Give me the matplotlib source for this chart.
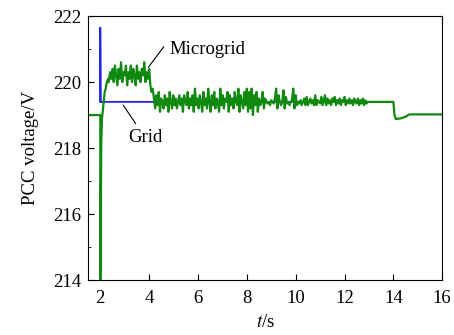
import numpy as np
import matplotlib
matplotlib.use('Agg')
from matplotlib import pyplot as plt

plt.rcParams['font.family'] = ['Liberation Serif', 'DejaVu Serif']
plt.rcParams['mathtext.fontset'] = 'stix'

# grid reference voltage
grid_t = [2.0, 2.0, 2.015, 13.0]
grid_v = [219.4, 221.65, 219.4, 219.4]

# microgrid PCC voltage
pre_t = [1.5, 2.0]
pre_v = [219.0, 219.0]

start_t = [2.0, 2.005, 2.02, 2.04, 2.07, 2.1, 2.14, 2.18, 2.22, 2.27, 2.32]
start_v = [214.0, 214.0, 216.0, 218.2, 218.9, 219.1, 219.4, 219.7, 219.8, 220.0, 220.1]

plateau_v = [220.0, 220.3, 220.1, 220.4, 220.0, 220.5, 220.2, 219.9, 220.4, 220.1,
             220.6, 220.0, 220.3, 220.2, 220.5, 219.9, 220.3, 220.1, 220.5, 220.0,
             220.4, 220.2, 219.9, 220.5, 220.1, 220.3, 220.0, 220.4, 220.2, 220.6,
             220.0, 220.3, 220.1, 220.4]

mid_v = [219.9, 219.7, 219.8, 219.5, 219.2, 219.6, 219.3, 219.7, 219.1, 219.5,
         219.4, 219.2, 219.6, 219.3, 219.5, 219.1, 219.7, 219.4, 219.2, 219.6,
         219.3, 219.5, 219.2, 219.4, 219.6, 219.3, 219.5, 219.1, 219.6, 219.4,
         219.3, 219.7, 219.2, 219.5, 219.3, 219.6, 219.1, 219.8, 219.3, 219.5,
         219.2, 219.6, 219.4, 219.1, 219.7, 219.3, 219.5, 219.2, 219.8, 219.4,
         219.1, 219.6, 219.3, 219.7, 219.2, 219.5, 219.4, 219.1, 219.8, 219.3,
         219.6, 219.2, 219.5, 219.4, 219.7, 219.1, 219.6, 219.3, 219.5, 219.2,
         219.7, 219.4, 219.3, 219.8, 219.1, 219.6, 219.4, 219.2, 219.7, 219.3]

late_v = [219.8, 219.1, 219.7, 219.2, 219.8, 219.0, 219.6, 219.3, 219.7, 219.1, 219.5, 219.3,
          219.4, 219.7, 219.2, 219.5, 219.4, 219.35, 219.4, 219.3, 219.45, 219.4, 219.35, 219.5,
          219.8, 219.2, 219.6, 219.4, 219.3, 219.4, 219.75, 219.2, 219.55, 219.35, 219.4, 219.3,
          219.4, 219.45, 219.8, 219.2, 219.6, 219.3, 219.4, 219.35, 219.45, 219.3, 219.4, 219.5,
          219.3, 219.55, 219.3, 219.4, 219.5, 219.35, 219.45, 219.3, 219.6, 219.3, 219.45, 219.4,
          219.35, 219.55, 219.3, 219.45, 219.6, 219.3, 219.5, 219.35, 219.45, 219.3, 219.5, 219.4,
          219.55, 219.3, 219.45, 219.35, 219.5, 219.3, 219.45, 219.4, 219.55, 219.3, 219.45, 219.35,
          219.5, 219.35, 219.45, 219.3, 219.5, 219.4, 219.35, 219.5, 219.3, 219.45, 219.35, 219.5,
          219.3, 219.45, 219.35, 219.4, 219.4]

end_t = [13.0, 14.0, 14.05, 14.1, 14.3, 14.5, 14.65, 16.0]
end_v = [219.4, 219.4, 219.0, 218.88, 218.9, 218.95, 219.02, 219.02]

plateau_t = np.linspace(2.35, 4.0, len(plateau_v))
mid_t = np.linspace(4.05, 7.95, len(mid_v))
late_t = np.linspace(8.0, 13.0, len(late_v))

mg_t = np.concatenate([pre_t, start_t, plateau_t, mid_t, late_t, end_t])
mg_v = np.concatenate([pre_v, start_v, plateau_v, mid_v, late_v, end_v])

fig = plt.figure(figsize=(4.54, 3.35), dpi=100)
ax = fig.add_axes([0.194, 0.164, 0.78, 0.788])

ax.plot(grid_t, grid_v, color='#2424e6', lw=1.3)
ax.plot(mg_t, mg_v, color='#0f8a0f', lw=1.6)

# labels with leader lines
ax.text(4.85, 220.98, 'Microgrid', fontsize=13.5, va='center', ha='left')
ax.annotate('', xy=(3.97, 220.45), xytext=(4.6, 221.07),
            arrowprops=dict(arrowstyle='-', lw=0.8, color='k', shrinkA=0, shrinkB=0))
ax.text(3.84, 218.33, 'Grid', fontsize=13.5, va='center', ha='center')
ax.annotate('', xy=(2.94, 219.3), xytext=(3.45, 218.74),
            arrowprops=dict(arrowstyle='-', lw=0.8, color='k', shrinkA=0, shrinkB=0))

ax.set_xlim(1.5, 16)
ax.set_ylim(214, 222)
ax.set_xticks(np.arange(2, 17, 2))
ax.set_yticks(np.arange(214, 223, 2))
ax.set_yticks(np.arange(215, 222, 2), minor=True)
ax.tick_params(direction='in', labelsize=13.5, length=4)
ax.tick_params(axis='x', pad=7)
ax.tick_params(axis='y', pad=5)
ax.tick_params(which='minor', direction='in', length=2.5)
ax.set_xlabel('$t$/s', fontsize=13.5, labelpad=5)
ax.set_ylabel('PCC voltage/V', fontsize=13.5, labelpad=10)

fig.savefig('out.png', dpi=100)
